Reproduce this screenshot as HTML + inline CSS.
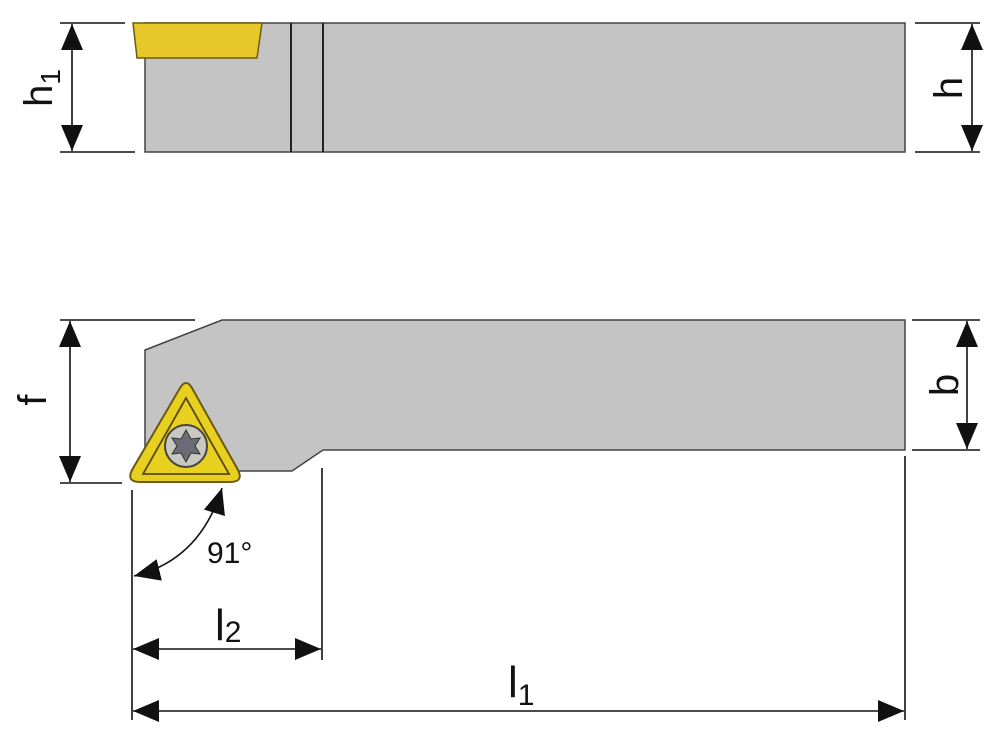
<!DOCTYPE html>
<html><head><style>html,body{margin:0;padding:0;background:#fff;}svg{display:block}</style></head>
<body>
<svg width="1000" height="742" viewBox="0 0 1000 742" xmlns="http://www.w3.org/2000/svg" font-family="Liberation Sans, sans-serif">
<defs>
<marker id="a" viewBox="0 0 10 10" refX="10" refY="5" markerWidth="9" markerHeight="9" markerUnits="userSpaceOnUse" orient="auto-start-reverse"><path d="M0,0 L10,5 L0,10 z" fill="#111"/></marker>
<marker id="b" viewBox="0 0 10 10" refX="10" refY="5" markerWidth="26" markerHeight="22" markerUnits="userSpaceOnUse" orient="auto-start-reverse" preserveAspectRatio="none"><path d="M0,0 L10,5 L0,10 z" fill="#111"/></marker>
</defs>
<!-- top view -->
<rect x="145" y="23" width="760" height="129" fill="#c4c4c4" stroke="#444" stroke-width="1.5"/>
<line x1="291" y1="23" x2="291" y2="152" stroke="#222" stroke-width="2"/>
<line x1="323" y1="23" x2="323" y2="152" stroke="#222" stroke-width="2"/>
<polygon points="133,23 262,23 257,58 137,58" fill="#e6c82a" stroke="#6b5a10" stroke-width="1.5"/>
<g stroke="#111" stroke-width="1.6" fill="none">
<line x1="60" y1="23" x2="125" y2="23"/><line x1="60" y1="152" x2="135" y2="152"/>
<line x1="72" y1="24" x2="72" y2="151" marker-start="url(#b)" marker-end="url(#b)"/>
<line x1="915" y1="23" x2="980" y2="23"/><line x1="915" y1="152" x2="980" y2="152"/>
<line x1="972" y1="24" x2="972" y2="151" marker-start="url(#b)" marker-end="url(#b)"/>
</g>
<text transform="translate(52,88) rotate(-90)" font-size="40" text-anchor="middle" fill="#111">h<tspan font-size="28" dy="8">1</tspan></text>
<text transform="translate(962,88) rotate(-90)" font-size="40" text-anchor="middle" fill="#111">h</text>
<!-- bottom view -->
<polygon points="145,350 222,320 905,320 905,450 323,450 292,471 145,471" fill="#c4c4c4" stroke="#444" stroke-width="1.5"/>
<g stroke="#111" stroke-width="1.6" fill="none">
<line x1="60" y1="320" x2="195" y2="320"/><line x1="60" y1="483" x2="122" y2="483"/>
<line x1="70" y1="321" x2="70" y2="482" marker-start="url(#b)" marker-end="url(#b)"/>
<line x1="912" y1="320" x2="980" y2="320"/><line x1="912" y1="450" x2="980" y2="450"/>
<line x1="967" y1="321" x2="967" y2="449" marker-start="url(#b)" marker-end="url(#b)"/>
<line x1="132" y1="490" x2="132" y2="720"/>
<line x1="322" y1="468" x2="322" y2="660"/>
<line x1="905" y1="456" x2="905" y2="720"/>
<line x1="133" y1="649" x2="321" y2="649" marker-start="url(#b)" marker-end="url(#b)"/>
<line x1="133" y1="711" x2="904" y2="711" marker-start="url(#b)" marker-end="url(#b)"/>
<path d="M222,488 Q200,560 134,576" marker-start="url(#b)" marker-end="url(#b)"/>
</g>
<text transform="translate(46,400) rotate(-90)" font-size="40" text-anchor="middle" fill="#111">f</text>
<text transform="translate(958,385) rotate(-90)" font-size="40" text-anchor="middle" fill="#111">b</text>
<text x="207" y="563" font-size="30" fill="#111">91°</text>
<text x="215" y="640" font-size="44" fill="#111">l<tspan font-size="30" dy="2">2</tspan></text>
<text x="508" y="697" font-size="44" fill="#111">l<tspan font-size="30" dy="8">1</tspan></text>
<!-- insert -->
<path d="M180,388 Q186,378 192,388 L238,470 Q244,482 230,482 L140,482 Q126,482 132,470 Z" fill="#e8d020" stroke="#6b5a10" stroke-width="2"/>
<path d="M186,398 L229,474 L143,474 Z" fill="none" stroke="#5a4a10" stroke-width="1.8"/>
<circle cx="186" cy="446" r="21" fill="#c8c8c0" stroke="#444" stroke-width="2"/>
<path d="M186,430 L191,439 L200,438 L195,446 L200,454 L191,453 L186,462 L181,453 L172,454 L177,446 L172,438 L181,439 Z" fill="#6c6c78" stroke="#333" stroke-width="1"/>
</svg>
</body></html>
